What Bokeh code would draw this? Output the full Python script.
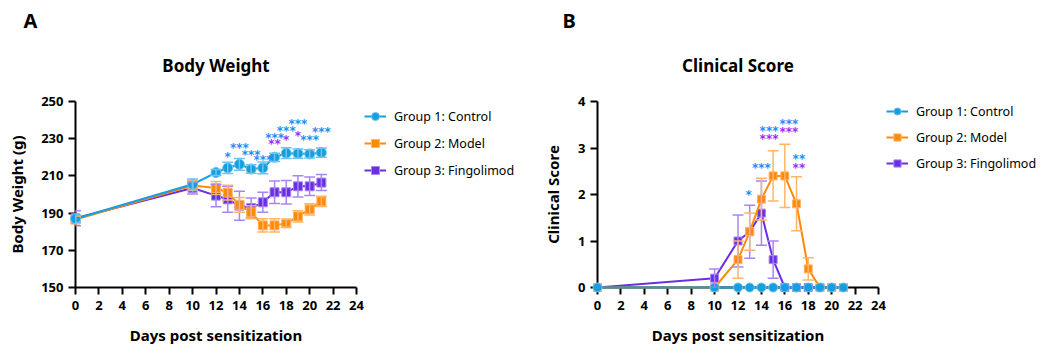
from bokeh.plotting import figure
from bokeh.layouts import row, column
from bokeh.models import (Legend, LegendItem, Whisker, TeeHead, ColumnDataSource,
                          FixedTicker, Range1d)
from bokeh.core.properties import value
from bokeh.embed import file_html
from bokeh.resources import INLINE

# ---------------- data ----------------
days = [0, 10, 12, 13, 14, 15, 16, 17, 18, 19, 20, 21]
group_names = ["Group 1: Control", "Group 2: Model", "Group 3: Fingolimod"]

bw_control = [187.0, 205.5, 211.8, 214.3, 216.2, 213.7, 214.3, 220.0, 222.2, 222.0, 221.8, 222.5]
bw_control_err = [2.0, 2.9, 1.6, 3.0, 3.1, 2.3, 3.2, 2.2, 2.9, 2.5, 2.2, 2.5]
bw_model = [186.5, 204.8, 203.5, 201.0, 194.4, 190.4, 183.4, 183.4, 184.5, 188.2, 192.0, 196.3]
bw_model_err = [2.0, 2.7, 3.5, 4.0, 4.0, 3.5, 3.5, 3.5, 2.0, 3.0, 3.0, 2.7]
bw_fingo = [187.2, 203.5, 199.4, 197.4, 194.0, 192.7, 195.8, 201.2, 201.2, 204.4, 204.4, 206.4]
bw_fingo_err = [4.0, 3.2, 6.0, 7.0, 7.8, 5.4, 5.4, 6.0, 6.3, 5.7, 5.0, 4.3]

cs_control = [0, 0, 0, 0, 0, 0, 0, 0, 0, 0, 0, 0]
cs_control_err = [0, 0, 0, 0, 0, 0, 0, 0, 0, 0, 0, 0]
cs_model = [0, 0, 0.6, 1.2, 1.9, 2.4, 2.4, 1.8, 0.4, 0, 0, 0]
cs_model_err = [0, 0, 0.4, 0.4, 0.45, 0.54, 0.68, 0.58, 0.24, 0, 0, 0]
cs_fingo = [0, 0.2, 1.0, 1.2, 1.6, 0.6, 0, 0, 0, 0, 0, 0]
cs_fingo_err = [0, 0.2, 0.56, 0.57, 0.69, 0.4, 0, 0, 0, 0, 0, 0]

# significance marks (vs Model): blue = Control, purple = Fingolimod
bw_sig_ctrl_x = [13, 14, 15, 16, 17, 18, 19, 20, 21]
bw_sig_ctrl_y = [221.8, 226.8, 223.1, 220.2, 232.1, 235.6, 239.4, 230.8, 235.1]
bw_sig_ctrl_txt = ["*", "***", "***", "***", "***", "***", "***", "***", "***"]
bw_sig_fingo_x = [17, 18, 19]
bw_sig_fingo_y = [228.5, 230.8, 233.1]
bw_sig_fingo_txt = ["**", "*", "*"]

cs_sig_ctrl_x = [12.9, 14.0, 14.65, 16.35, 17.2]
cs_sig_ctrl_y = [2.05, 2.64, 3.43, 3.58, 2.82]
cs_sig_ctrl_txt = ["*", "***", "***", "***", "**"]
cs_sig_fingo_x = [14.65, 16.35, 17.2]
cs_sig_fingo_y = [3.25, 3.40, 2.64]
cs_sig_fingo_txt = ["***", "***", "**"]

x_ticks = [0, 2, 4, 6, 8, 10, 12, 14, 16, 18, 20, 22, 24]
bw_ticks = [150, 170, 190, 210, 230, 250]
cs_ticks = [0, 1, 2, 3, 4]

panel_letters = ["A", "B"]
panel_titles = ["Body Weight", "Clinical Score"]

# ---------------- style ----------------
FONT = "Noto Sans"
C_CTRL, C_MODEL, C_FINGO = "#139FE0", "#FF8A0A", "#6A2EE4"
E_CTRL, E_MODEL, E_FINGO = "#6CC3EE", "#FFB566", "#A786F0"
S_CTRL, S_FINGO = "#1E8CFF", "#9A2CFF"
HEADER_H = 77
ROW_H = 351 - HEADER_H
FRAME_TOP = 101          # page y of the plot frames' top
BOTTOM = 64              # space below the frames
TOP = FRAME_TOP - HEADER_H
FRAME_H = ROW_H - TOP - BOTTOM
NAN = float("nan")


def blank(width, height, xr, yr, top=0, bottom=0):
    p = figure(width=width, height=height, min_border_left=0, min_border_right=0,
               min_border_top=top, min_border_bottom=bottom, x_range=xr, y_range=yr,
               x_axis_type=None, y_axis_type=None, output_backend="svg",
               toolbar_location=None, title=None)
    p.outline_line_color = None
    p.background_fill_color = "white"
    p.border_fill_color = "white"
    return p


def make_plot(ylabel, y0, y1, yticks, series, sigs, ylabel_standoff):
    fw = 281
    width = 75 + fw + 8
    p = figure(width=width, height=ROW_H, min_border_left=75, min_border_right=8,
               min_border_top=TOP, min_border_bottom=BOTTOM,
               x_range=Range1d(0, 24), y_range=Range1d(y0, y1),
               output_backend="svg", toolbar_location=None, title=None)
    p.outline_line_color = None
    p.xgrid.visible = False
    p.ygrid.visible = False
    p.background_fill_color = "white"
    p.border_fill_color = "white"

    for ax in (p.xaxis[0], p.yaxis[0]):
        ax.axis_line_width = 2
        ax.axis_line_color = "black"
        ax.major_tick_line_width = 2
        ax.major_tick_line_color = "black"
        ax.major_tick_out = 7
        ax.major_tick_in = 0
        ax.minor_tick_line_color = None
        ax.major_label_text_font = FONT
        ax.major_label_text_font_style = "bold"
        ax.major_label_text_font_size = "13px"
        ax.major_label_text_color = "black"
        ax.axis_label_text_font = FONT
        ax.axis_label_text_font_style = "bold"
        ax.axis_label_text_font_size = "15px"
        ax.axis_label_text_color = "black"
    p.xaxis[0].ticker = FixedTicker(ticks=x_ticks)
    p.yaxis[0].ticker = FixedTicker(ticks=yticks)
    p.xaxis[0].axis_label = "Days post sensitization"
    p.xaxis[0].major_label_standoff = 6
    p.xaxis[0].axis_label_standoff = 12
    p.yaxis[0].axis_label = ylabel
    p.yaxis[0].major_label_standoff = 5
    p.yaxis[0].axis_label_standoff = ylabel_standoff

    # draw order: fingolimod, model, control (control on top)
    for name, ys, errs, col, ecol, marker, size in reversed(series):
        lo = [y - e for y, e in zip(ys, errs)]
        hi = [y + e for y, e in zip(ys, errs)]
        keep = [i for i, e in enumerate(errs) if e > 0]
        wsrc = ColumnDataSource(dict(x=[days[i] for i in keep], lo=[lo[i] for i in keep],
                                     hi=[hi[i] for i in keep]))
        w = Whisker(base="x", lower="lo", upper="hi", source=wsrc, line_color=ecol,
                    line_width=1.5, level="overlay",
                    upper_head=TeeHead(size=11, line_color=ecol, line_width=1.5),
                    lower_head=TeeHead(size=11, line_color=ecol, line_width=1.5))
        p.add_layout(w)
        src = ColumnDataSource(dict(x=days, y=ys))
        p.line("x", "y", source=src, line_color=col, line_width=2, level="overlay")
        p.scatter("x", "y", source=src, marker=marker, size=size, fill_color=col,
                  line_color=ecol, line_width=1, level="overlay")

    for xs, ys, txt, col in sigs:
        ssrc = ColumnDataSource(dict(x=xs, y=ys, t=txt))
        p.text("x", "y", text="t", source=ssrc, text_color=col,
               text_font=value("DejaVu Sans"), text_font_style="bold",
               text_font_size="12px", text_align="center", text_baseline="middle",
               y_offset=3, level="overlay")
    return p


def make_legend_fig(width, series, first_center, lh, spacing):
    # frames in a row are aligned, so the legend figure uses the same borders as the plots
    p = blank(width, ROW_H, Range1d(0, 1), Range1d(0, 1), top=TOP, bottom=BOTTOM)
    items = []
    for name, ys, errs, col, ecol, marker, size in series:
        # legend-only renderers (a single NaN point, nothing is drawn in the plot area)
        lsrc = ColumnDataSource(dict(x=[NAN], y=[NAN]))
        lr = p.line("x", "y", source=lsrc, line_color=col, line_width=2)
        sr = p.scatter("x", "y", source=lsrc, marker=marker, size=8, fill_color=col,
                       line_color=ecol, line_width=1)
        items.append(LegendItem(label=name, renderers=[lr, sr]))
    n = len(items)
    leg_h = n * lh + (n - 1) * spacing
    leg_top = first_center - lh / 2 - FRAME_TOP          # offset below the frame top
    y_from_bottom = FRAME_H - leg_top - leg_h
    legend = Legend(items=items, location=(0, y_from_bottom), orientation="vertical",
                    border_line_color=None, background_fill_alpha=0, padding=0, margin=0,
                    spacing=spacing, label_height=lh, glyph_height=lh, glyph_width=22,
                    label_standoff=8, label_text_font=FONT, label_text_font_size="12.5px",
                    label_text_color="black")
    p.add_layout(legend)
    return p


bw_series = [
    (group_names[0], bw_control, bw_control_err, C_CTRL, E_CTRL, "circle", 10),
    (group_names[1], bw_model, bw_model_err, C_MODEL, E_MODEL, "square", 9),
    (group_names[2], bw_fingo, bw_fingo_err, C_FINGO, E_FINGO, "square", 9),
]
cs_series = [
    (group_names[0], cs_control, cs_control_err, C_CTRL, E_CTRL, "circle", 9),
    (group_names[1], cs_model, cs_model_err, C_MODEL, E_MODEL, "square", 8),
    (group_names[2], cs_fingo, cs_fingo_err, C_FINGO, E_FINGO, "square", 8),
]
bw_sigs = [(bw_sig_fingo_x, bw_sig_fingo_y, bw_sig_fingo_txt, S_FINGO),
           (bw_sig_ctrl_x, bw_sig_ctrl_y, bw_sig_ctrl_txt, S_CTRL)]
cs_sigs = [(cs_sig_fingo_x, cs_sig_fingo_y, cs_sig_fingo_txt, S_FINGO),
           (cs_sig_ctrl_x, cs_sig_ctrl_y, cs_sig_ctrl_txt, S_CTRL)]

# header with panel letters and titles (pixel coordinates, y down)
header = blank(1045, HEADER_H, Range1d(0, 1045), Range1d(HEADER_H, 0))
header.text(x=[23, 562], y=[20, 20], text=panel_letters, text_font=value(FONT),
            text_font_style="bold", text_font_size="20px", text_color="black",
            text_align="left", text_baseline="middle")
header.text(x=[215.5, 737.5], y=[64.5, 65], text=panel_titles, text_font=value(FONT),
            text_font_style="bold", text_font_size="17px", text_color="black",
            text_align="center", text_baseline="middle")

pA = make_plot("Body Weight (g)", 150, 250, bw_ticks, bw_series, bw_sigs, ylabel_standoff=11)
legA = make_legend_fig(522 - pA.width, bw_series, first_center=116, lh=20, spacing=7)
pB = make_plot("Clinical Score", 0, 4, cs_ticks, cs_series, cs_sigs, ylabel_standoff=12)
legB = make_legend_fig(1045 - 522 - pB.width, cs_series, first_center=111, lh=18, spacing=8)

layout = column(header, row(pA, legA, pB, legB), spacing=0)
open("out.html", "w").write(file_html(layout, INLINE))
